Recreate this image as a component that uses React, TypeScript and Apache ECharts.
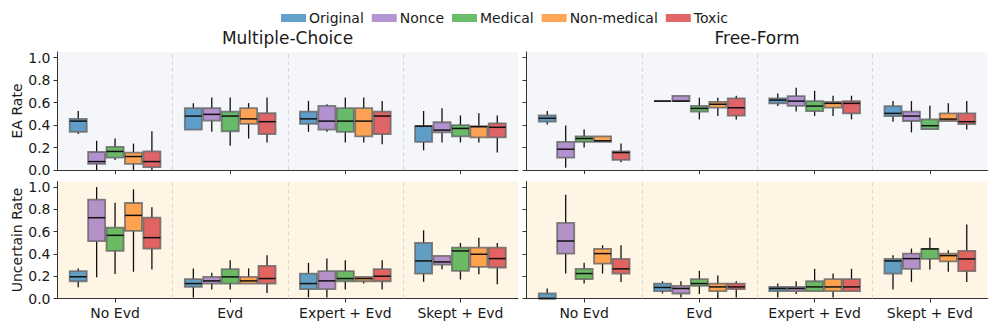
import React, { useEffect, useRef } from 'react';
import * as echarts from 'echarts';

const CATEGORIES = ['No Evd', 'Evd', 'Expert + Evd', 'Skept + Evd'];
const SERIES_NAMES = ['Original', 'Nonce', 'Medical', 'Non-medical', 'Toxic'];
const SERIES_COLORS = [
  'rgba(31,119,180,0.7)',
  'rgba(148,103,189,0.7)',
  'rgba(44,160,44,0.7)',
  'rgba(255,127,14,0.7)',
  'rgba(214,39,40,0.7)',
];
const PANEL_TITLES = ['Multiple-Choice', 'Free-Form'];
const ROW_NAMES = ['EA Rate', 'Uncertain Rate'];
const Y_TICKS = [0, 0.2, 0.4, 0.6, 0.8, 1.0];
const X_TICKS = [0.5, 1.5, 2.5, 3.5];
const DIVIDERS = [1, 2, 3];

// [series][group] = [min, q1, median, q3, max]
const MC_EA = [
  [[0.32, 0.34, 0.435, 0.455, 0.525], [0.36, 0.36, 0.48, 0.55, 0.595], [0.34, 0.41, 0.455, 0.52, 0.615], [0.175, 0.25, 0.39, 0.39, 0.525]],
  [[0.0, 0.055, 0.075, 0.16, 0.26], [0.34, 0.44, 0.495, 0.55, 0.645], [0.34, 0.36, 0.435, 0.57, 0.585], [0.245, 0.335, 0.355, 0.425, 0.55]],
  [[0.09, 0.11, 0.165, 0.205, 0.28], [0.215, 0.345, 0.48, 0.52, 0.645], [0.245, 0.34, 0.435, 0.55, 0.645], [0.245, 0.3, 0.37, 0.4, 0.485]],
  [[0.0, 0.055, 0.12, 0.155, 0.235], [0.28, 0.41, 0.455, 0.55, 0.595], [0.245, 0.3, 0.435, 0.55, 0.645], [0.245, 0.29, 0.385, 0.39, 0.505]],
  [[0.0, 0.025, 0.075, 0.165, 0.345], [0.245, 0.32, 0.43, 0.505, 0.645], [0.23, 0.32, 0.48, 0.52, 0.615], [0.155, 0.29, 0.38, 0.415, 0.485]],
];
const FF_EA = [
  [[0.405, 0.43, 0.46, 0.485, 0.525], [0.613, 0.613, 0.613, 0.613, 0.613], [0.57, 0.593, 0.622, 0.637, 0.681], [0.43, 0.48, 0.504, 0.569, 0.613]],
  [[0.02, 0.11, 0.185, 0.25, 0.395], [0.613, 0.613, 0.613, 0.66, 0.66], [0.52, 0.57, 0.613, 0.658, 0.732], [0.335, 0.436, 0.48, 0.519, 0.613]],
  [[0.2, 0.25, 0.28, 0.3, 0.36], [0.45, 0.52, 0.548, 0.57, 0.643], [0.48, 0.524, 0.569, 0.613, 0.705], [0.364, 0.364, 0.394, 0.45, 0.572]],
  [[0.25, 0.25, 0.26, 0.3, 0.3], [0.48, 0.555, 0.585, 0.607, 0.643], [0.48, 0.555, 0.593, 0.607, 0.661], [0.436, 0.436, 0.453, 0.504, 0.593]],
  [[0.07, 0.09, 0.155, 0.165, 0.235], [0.45, 0.483, 0.554, 0.637, 0.661], [0.45, 0.504, 0.593, 0.613, 0.661], [0.361, 0.409, 0.43, 0.504, 0.613]],
];
const MC_UNC = [
  [[0.1, 0.155, 0.195, 0.245, 0.27], [0.01, 0.104, 0.134, 0.173, 0.27], [0.01, 0.084, 0.134, 0.224, 0.32], [0.15, 0.224, 0.337, 0.499, 0.612]],
  [[0.19, 0.515, 0.725, 0.887, 1.0], [0.08, 0.134, 0.158, 0.194, 0.23], [0.01, 0.084, 0.158, 0.245, 0.358], [0.263, 0.304, 0.328, 0.382, 0.382]],
  [[0.22, 0.427, 0.567, 0.636, 0.86], [0.08, 0.134, 0.194, 0.263, 0.343], [0.08, 0.155, 0.179, 0.245, 0.343], [0.17, 0.248, 0.427, 0.457, 0.499]],
  [[0.24, 0.606, 0.746, 0.857, 0.98], [0.134, 0.134, 0.158, 0.194, 0.27], [0.134, 0.155, 0.179, 0.194, 0.194], [0.218, 0.284, 0.397, 0.457, 0.546]],
  [[0.26, 0.448, 0.546, 0.725, 0.82], [0.05, 0.134, 0.179, 0.293, 0.388], [0.08, 0.155, 0.2, 0.263, 0.343], [0.128, 0.278, 0.358, 0.457, 0.499]],
];
const FF_UNC = [
  [[0, 0, 0, 0.045, 0.09], [0.045, 0.066, 0.099, 0.134, 0.155], [0.01, 0.066, 0.09, 0.104, 0.134], [0.08, 0.224, 0.337, 0.355, 0.388]],
  [[0.224, 0.403, 0.516, 0.678, 0.931], [0.01, 0.045, 0.09, 0.113, 0.155], [0.04, 0.066, 0.09, 0.104, 0.155], [0.149, 0.266, 0.358, 0.403, 0.448]],
  [[0.134, 0.173, 0.224, 0.266, 0.32], [0.04, 0.113, 0.134, 0.173, 0.248], [0.066, 0.066, 0.104, 0.155, 0.266], [0.26, 0.355, 0.445, 0.445, 0.546]],
  [[0.224, 0.313, 0.403, 0.445, 0.478], [0, 0.066, 0.104, 0.134, 0.206], [0.01, 0.066, 0.104, 0.173, 0.224], [0.239, 0.334, 0.385, 0.403, 0.433]],
  [[0.149, 0.224, 0.266, 0.355, 0.478], [0.01, 0.084, 0.104, 0.134, 0.155], [0.066, 0.066, 0.104, 0.173, 0.266], [0.149, 0.245, 0.355, 0.427, 0.663]],
];

const PANELS = [MC_EA, FF_EA, MC_UNC, FF_UNC];

const FONT = 'DejaVu Sans';
const AXIS_COLOR = '#333';
const TEXT_COLOR = '#1a1a1a';
const BG = ['#f4f6fa', '#fef5e5'];

export default function App() {
  const ref = useRef<HTMLDivElement>(null);

  useEffect(() => {
    if (!ref.current) return;
    const chart = echarts.init(ref.current, undefined, { renderer: 'svg' });

    const grids = [
      { left: 57.5, top: 52, width: 460.5, height: 118 },
      { left: 526.5, top: 52, width: 461, height: 118 },
      { left: 57.5, top: 181.5, width: 460.5, height: 117 },
      { left: 526.5, top: 181.5, width: 461, height: 117 },
    ].map((g, i) => ({
      ...g,
      show: true,
      borderWidth: 0,
      backgroundColor: BG[i < 2 ? 0 : 1],
    }));

    const xAxes = grids.map((_, i) => ({
      type: 'value',
      gridIndex: i,
      min: 0,
      max: CATEGORIES.length,
      axisLine: { show: true, onZero: false, lineStyle: { color: AXIS_COLOR, width: 1 } },
      axisTick: { show: true, length: 4, customValues: X_TICKS, lineStyle: { color: AXIS_COLOR } },
      axisLabel: {
        show: i >= 2,
        customValues: X_TICKS,
        formatter: (v: number) => CATEGORIES[Math.round(v - 0.5)] ?? '',
        fontSize: 14,
        fontFamily: FONT,
        color: TEXT_COLOR,
        margin: 7,
      },
      splitLine: { show: false },
    }));

    const yAxes = grids.map((_, i) => ({
      type: 'value',
      gridIndex: i,
      min: 0,
      max: 1.05,
      name: i % 2 === 0 ? ROW_NAMES[i < 2 ? 0 : 1] : '',
      nameLocation: 'middle',
      nameGap: 31,
      nameRotate: 90,
      nameTextStyle: { fontSize: 14, fontFamily: FONT, color: TEXT_COLOR },
      axisLine: { show: true, onZero: false, lineStyle: { color: AXIS_COLOR, width: 1 } },
      axisTick: { show: true, length: 4, customValues: Y_TICKS, lineStyle: { color: AXIS_COLOR } },
      axisLabel: {
        show: i % 2 === 0,
        customValues: Y_TICKS,
        formatter: (v: number) => v.toFixed(1),
        fontSize: 14,
        fontFamily: FONT,
        color: TEXT_COLOR,
        margin: 7,
      },
      splitLine: { show: false },
    }));

    const series: any[] = [];
    PANELS.forEach((panel, p) => {
      panel.forEach((groups, s) => {
        const data = groups.map((five, g) => [g, ...five]);
        series.push({
          type: 'custom',
          name: SERIES_NAMES[s],
          xAxisIndex: p,
          yAxisIndex: p,
          itemStyle: { color: SERIES_COLORS[s] },
          encode: { x: 0, y: [1, 2, 3, 4, 5] },
          data,
          z: 3,
          renderItem: (params: any, api: any) => {
            const g = api.value(0);
            const band = api.size([1, 0])[0];
            const cx = api.coord([g + 0.5, 0])[0] + (s - 2) * band * 0.16;
            const w = band * 0.148;
            const y = (k: number) => api.coord([0, api.value(k)])[1];
            const yMin = y(1), yQ1 = y(2), yMed = y(3), yQ3 = y(4), yMax = y(5);
            const lineStyle = { stroke: '#111', lineWidth: 1.3 };
            return {
              type: 'group',
              children: [
                { type: 'line', shape: { x1: cx, y1: yMin, x2: cx, y2: yQ1 }, style: lineStyle },
                { type: 'line', shape: { x1: cx, y1: yQ3, x2: cx, y2: yMax }, style: lineStyle },
                {
                  type: 'rect',
                  shape: { x: cx - w / 2, y: yQ3, width: w, height: yQ1 - yQ3 },
                  style: { fill: SERIES_COLORS[s], stroke: 'rgba(100,100,100,0.8)', lineWidth: 1.8 },
                },
                {
                  type: 'line',
                  shape: { x1: cx - w / 2, y1: yMed, x2: cx + w / 2, y2: yMed },
                  style: { stroke: '#111', lineWidth: 1.5 },
                },
              ],
            };
          },
          markLine: s === 0 ? {
            silent: true,
            symbol: ['none', 'none'],
            label: { show: false },
            lineStyle: { color: '#cfcfcf', width: 0.8, type: [4, 3] },
            data: DIVIDERS.map((d) => ({ xAxis: d })),
          } : undefined,
        });
      });
    });

    chart.setOption({
      animation: false,
      textStyle: { fontFamily: FONT },
      title: PANEL_TITLES.map((t, i) => ({
        text: t,
        left: i === 0 ? 287.5 : 757,
        top: 29.5,
        padding: 0,
        textAlign: 'center',
        textStyle: { fontSize: 17, fontWeight: 'normal', fontFamily: FONT, color: TEXT_COLOR },
      })),
      legend: {
        data: SERIES_NAMES,
        left: 281,
        top: 11,
        padding: 0,
        icon: 'rect',
        itemWidth: 25,
        itemHeight: 8,
        itemGap: 8,
        textStyle: { fontSize: 14, fontFamily: FONT, color: TEXT_COLOR, padding: [0, 0, 0, -2] },
      },
      grid: grids,
      xAxis: xAxes,
      yAxis: yAxes,
      series,
    });

    return () => chart.dispose();
  }, []);

  return (
    <div
      ref={ref}
      style={{ position: 'fixed', left: 0, top: 0, width: 996, height: 329, background: '#fff' }}
    />
  );
}
